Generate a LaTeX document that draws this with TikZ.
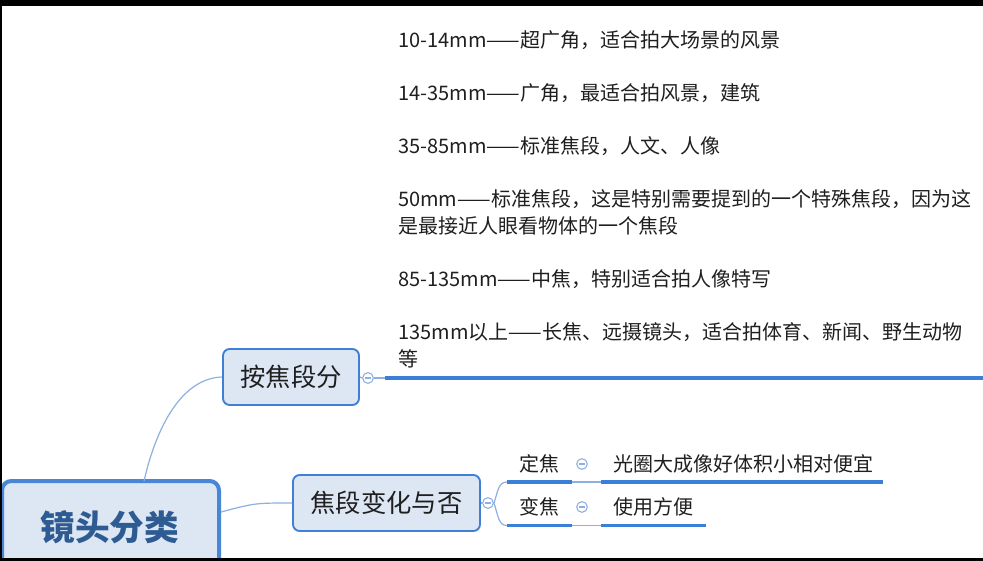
\documentclass[tikz,border=0pt]{standalone}
\usepackage{fontspec}
\setmainfont{Noto Sans CJK SC}
\definecolor{boxfill}{HTML}{DDE6F3}
\definecolor{boxline}{HTML}{3F80D6}
\definecolor{rootline}{HTML}{4A86D6}
\definecolor{roottext}{HTML}{2E5C92}
\definecolor{thinline}{HTML}{8DB0E0}
\definecolor{uline}{HTML}{3C7FD6}
\definecolor{txt}{HTML}{1F1F1F}
\begin{document}
\begin{tikzpicture}[x=0.75pt,y=-0.75pt,
  rootbox/.style={draw=rootline,line width=3pt,fill=boxfill,rounded corners=7pt,
    minimum width=162.75pt,minimum height=70.5pt,inner sep=0pt},
  topicbox/.style={draw=boxline,line width=1.4pt,fill=boxfill,rounded corners=5pt,
    minimum height=42pt,inner sep=0pt,text=txt,font=\fontsize{19}{22}\selectfont},
  item/.style={anchor=west,inner sep=0pt,text=txt,align=left,
    font=\fontsize{15}{20.25}\selectfont},
  small/.style={inner sep=0pt,text=txt,font=\fontsize{15}{18}\selectfont},
  circ/.style={circle,draw=thinline,fill=white,line width=0.8pt,minimum size=8pt,inner sep=0pt,
    path picture={\draw[thinline,line width=0.8pt] ([xshift=-2pt]path picture bounding box.center) -- ([xshift=2pt]path picture bounding box.center);}},
  conn/.style={draw=thinline,line width=0.9pt},
  ul/.style={draw=uline,line width=2.3pt}]
\useasboundingbox (0,0) rectangle (983,561);
\clip (0,0) rectangle (983,561);
\fill[white] (0,0) rectangle (983,561);

% root
\node[rootbox] (root) at (110.5,528) {};
\node[text=roottext,inner sep=0pt,font=\fontsize{26}{30}\selectfont\bfseries] (roottxt) at (110,527) {镜头分类};

% topics
\node[topicbox,minimum width=102pt] (n1) at (291,377) {按焦段分};
\node[topicbox,minimum width=140.25pt] (n2) at (386.5,503) {焦段变化与否};

\coordinate (rt) at (144,481);
\coordinate (rr) at (221,512);
\draw[conn] (rt) .. controls (158,420) and (185,378) .. (n1.west);
\draw[conn] (rr) .. controls (255,503) .. (n2.west);

% branch 1
\node[circ] (c1) at (368,378) {};
\coordinate (u1a) at (385,378);
\coordinate (u1b) at (990,378);
\draw[conn] (n1.east) -- (c1.west);
\draw[conn] (c1.east) -- (u1a);
\draw[ul] (u1a) -- (u1b);

\node[item] (t1) at (398,40) {10-14mm——超广角，适合拍大场景的风景};
\node[item] (t2) at (398,93) {14-35mm——广角，最适合拍风景，建筑};
\node[item] (t3) at (398,146) {35-85mm——标准焦段，人文、人像};
\node[item] (t4) at (398,212.5) {50mm——标准焦段，这是特别需要提到的一个特殊焦段，因为这\\是最接近人眼看物体的一个焦段};
\node[item] (t5) at (398,279) {85-135mm——中焦，特别适合拍人像特写};
\node[item] (t6) at (398,345.5) {135mm以上——长焦、远摄镜头，适合拍体育、新闻、野生动物\\等};

% branch 2
\node[circ] (c2) at (488,503) {};
\draw[conn] (n2.east) -- (c2.west);
\coordinate (a1) at (507,482);
\coordinate (a2) at (507,525.5);
\draw[conn] (c2.east) .. controls (498,492) and (498,482) .. (a1);
\draw[conn] (c2.east) .. controls (498,514) and (498,525.5) .. (a2);

\node[small] (d1) at (539,464) {定焦};
\node[small] (d2) at (539,507) {变焦};
\node[circ] (c3) at (582,464) {};
\node[circ] (c4) at (582,507) {};
\node[small,anchor=west] (e1) at (613,464) {光圈大成像好体积小相对便宜};
\node[small,anchor=west] (e2) at (613,507) {使用方便};

\coordinate (b1) at (572,482);
\coordinate (f1) at (601,482);
\coordinate (g1) at (883,482);
\coordinate (b2) at (572,525.5);
\coordinate (f2) at (601,525.5);
\coordinate (g2) at (706,525.5);
\draw[ul] (a1) -- (b1);
\draw[conn] (b1) -- (f1);
\draw[ul] (f1) -- (g1);
\draw[ul] (a2) -- (b2);
\draw[conn] (b2) -- (f2);
\draw[ul] (f2) -- (g2);

% black frame bands
\fill[black] (0,0) rectangle (983,6);
\fill[black] (0,558) rectangle (983,561);
\fill[black] (0,0) rectangle (2,561);
\end{tikzpicture}
\end{document}
